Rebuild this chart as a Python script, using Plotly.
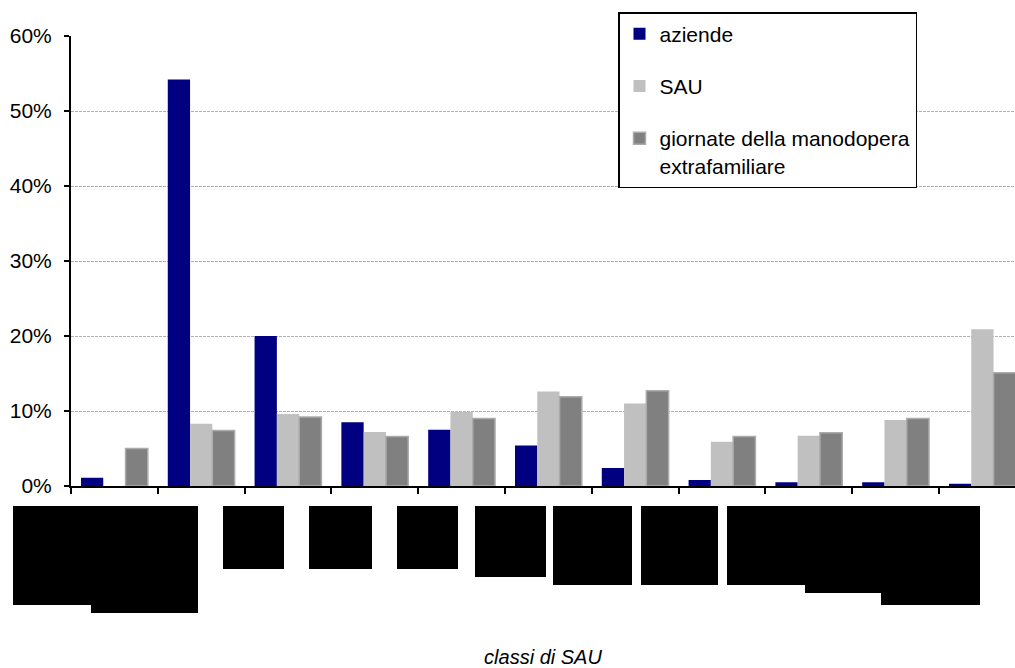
import plotly.graph_objects as go

# Classi di SAU (ettari)
classi = ["senza SAU", "meno di 1", "1 - 2", "2 - 3", "3 - 5", "5 - 10",
          "10 - 20", "20 - 30", "30 - 50", "50 - 100", "100 e oltre"]

# Quote percentuali per classe
aziende = [1.1, 54.2, 20.0, 8.5, 7.5, 5.4, 2.4, 0.8, 0.5, 0.5, 0.3]
sau = [0.0, 8.3, 9.6, 7.2, 9.9, 12.6, 11.0, 5.9, 6.7, 8.8, 20.9]
giornate = [5.0, 7.4, 9.2, 6.6, 9.0, 11.9, 12.7, 6.6, 7.1, 9.0, 15.1]

y_ticks = [0, 10, 20, 30, 40, 50, 60]
y_tick_labels = [f"{v}%" for v in y_ticks]

W, H = 1015, 668
L, R, T, B = 71, 0, 36, 182
plot_w = W - L - R
plot_h = H - T - B
cat_px = 86.8  # larghezza di una classe in pixel

FONT = "Arial, Liberation Sans, sans-serif"

fig = go.Figure()
fig.add_trace(go.Bar(x=classi, y=aziende, name="aziende",
                     marker=dict(color="#000080", line=dict(width=0)),
                     legendgroup="a"))
fig.add_trace(go.Bar(x=classi, y=sau, name="SAU",
                     marker=dict(color="#C0C0C0", line=dict(width=0)),
                     legendgroup="b"))
fig.add_trace(go.Bar(x=classi, y=giornate,
                     name="giornate della manodopera<br>extrafamiliare",
                     marker=dict(color="#808080",
                                 line=dict(color="#ABABAB", width=1.5)),
                     legendgroup="c"))

# riquadri neri delle etichette di categoria (pixel: x0, y0, x1, y1)
label_boxes = [
    (13, 506, 150, 605), (91, 506, 198, 613), (223, 506, 284, 569),
    (309, 506, 372, 569), (397, 506, 458, 569), (475, 506, 546, 577),
    (553, 506, 632, 585), (641, 506, 718, 585), (727, 506, 850, 585),
    (805, 506, 900, 593), (881, 506, 980, 605),
]


def px_x(v):
    return (v - L) / plot_w


def px_y(v):
    return (H - B - v) / plot_h


shapes = []
for x0, y0, x1, y1 in label_boxes:
    shapes.append(dict(type="rect", xref="paper", yref="paper",
                       x0=px_x(x0), x1=px_x(x1), y0=px_y(y1), y1=px_y(y0),
                       fillcolor="black", line=dict(width=0), layer="above"))

fig.update_layout(
    width=W, height=H,
    margin=dict(l=L, r=R, t=T, b=B, pad=0),
    paper_bgcolor="white", plot_bgcolor="white",
    font=dict(family=FONT, size=21, color="black"),
    barmode="group", bargap=0.23, bargroupgap=0,
    showlegend=True,
    legend=dict(x=px_x(618), y=px_y(12), xanchor="left", yanchor="top",
                bgcolor="white", bordercolor="black", borderwidth=1.5,
                font=dict(size=21), tracegroupgap=22, valign="top",
                traceorder="grouped"),
    shapes=shapes,
    xaxis=dict(
        range=[-0.5, -0.5 + plot_w / cat_px],
        showticklabels=False, tickson="boundaries",
        ticks="outside", ticklen=6, tickwidth=2, tickcolor="black",
        showline=True, linecolor="black", linewidth=2,
        showgrid=False, zeroline=False,
        title=dict(text="<i>classi di SAU</i>", standoff=171,
                   font=dict(size=20)),
        automargin=False,
    ),
    yaxis=dict(
        range=[0, 60], tickmode="array", tickvals=y_ticks,
        ticktext=y_tick_labels,
        ticks="outside", ticklen=5, tickwidth=2, tickcolor="black",
        showline=True, linecolor="black", linewidth=2,
        showgrid=True, gridcolor="#B0B0B0", gridwidth=1, griddash="3px,1px",
        zeroline=False, ticklabelstandoff=8, automargin=False,
    ),
)

fig.write_html("out.html")
